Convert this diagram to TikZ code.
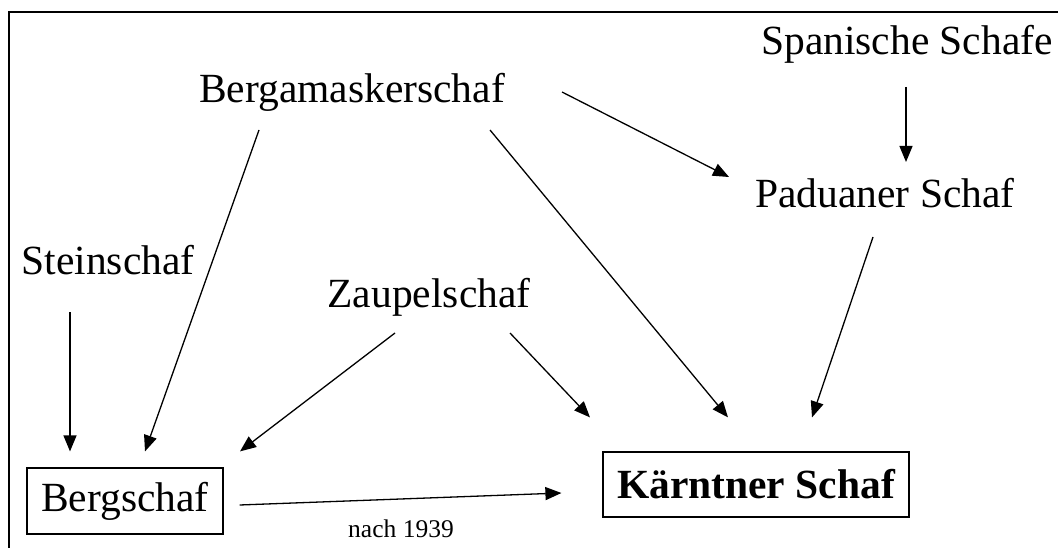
\documentclass[tikz,border=0pt]{standalone}
\usepackage{fontspec}
\setmainfont{Liberation Serif}
\usetikzlibrary{arrows.meta, positioning}

\begin{document}
\begin{tikzpicture}[x=1pt, y=-1pt,
  breed/.style={font=\fontsize{41.5}{48}\selectfont, inner sep=0pt, anchor=base},
  box/.style={draw, line width=1.2pt, font=\fontsize{41.5}{48}\selectfont},
  arr/.style={line width=1.3pt, -{Triangle[length=16pt,width=13pt]}}]
\useasboundingbox (0,0) rectangle (1058,548);
\draw [line width=1.6pt] (9,548) -- (9,12) -- (1058,12);
% Rassen
\node [breed] (span)  at (907,55)  {Spanische Schafe};
\node [breed] (padu)  at (885,208) {Paduaner Schaf};
\node [breed] (berga) at (352,103) {Bergamaskerschaf};
\node [breed] (stein) at (108,275) {Steinschaf};
\node [breed] (zaup)  at (429,307) {Zaupelschaf};
\node [box, minimum width=196pt, minimum height=66pt, inner sep=0pt] (berg) at (125,501) {Bergschaf};
\node [box, minimum width=306pt, minimum height=65pt, inner sep=0pt] (kaern) at (756,484.5) {\bfseries Kärntner Schaf};
\node [font=\fontsize{25.5}{30}\selectfont, inner sep=0pt, anchor=base] (nach) at (401,537) {nach 1939};
% Pfeile
\draw [arr] ([xshift=-1pt,yshift=-32pt]span.base) -- ([xshift=21pt,yshift=46pt]padu.base);
\draw [arr] ([xshift=210pt,yshift=11pt]berga.base) -- ([xshift=-156pt,yshift=31pt]padu.base);
\draw [arr] ([xshift=138pt,yshift=-27pt]berga.base) -- ([xshift=-28pt,yshift=34pt]kaern.north);
\draw [arr] ([xshift=-93pt,yshift=-27pt]berga.base) -- ([xshift=20pt,yshift=16pt]berg.north);
\draw [arr] ([xshift=-38pt,yshift=-37pt]stein.base) -- ([xshift=-55pt,yshift=16pt]berg.north);
\draw [arr] ([xshift=-34pt,yshift=-26pt]zaup.base) -- ([xshift=115pt,yshift=16pt]berg.north);
\draw [arr] ([xshift=81pt,yshift=-26pt]zaup.base) -- ([xshift=-166pt,yshift=34pt]kaern.north);
\draw [arr] ([xshift=-12pt,yshift=-29pt]padu.base) -- ([xshift=56pt,yshift=34pt]kaern.north);
\draw [arr] ([xshift=16pt,yshift=-4pt]berg.east) -- ([xshift=-41pt,yshift=-8.5pt]kaern.west);
\end{tikzpicture}
\end{document}
